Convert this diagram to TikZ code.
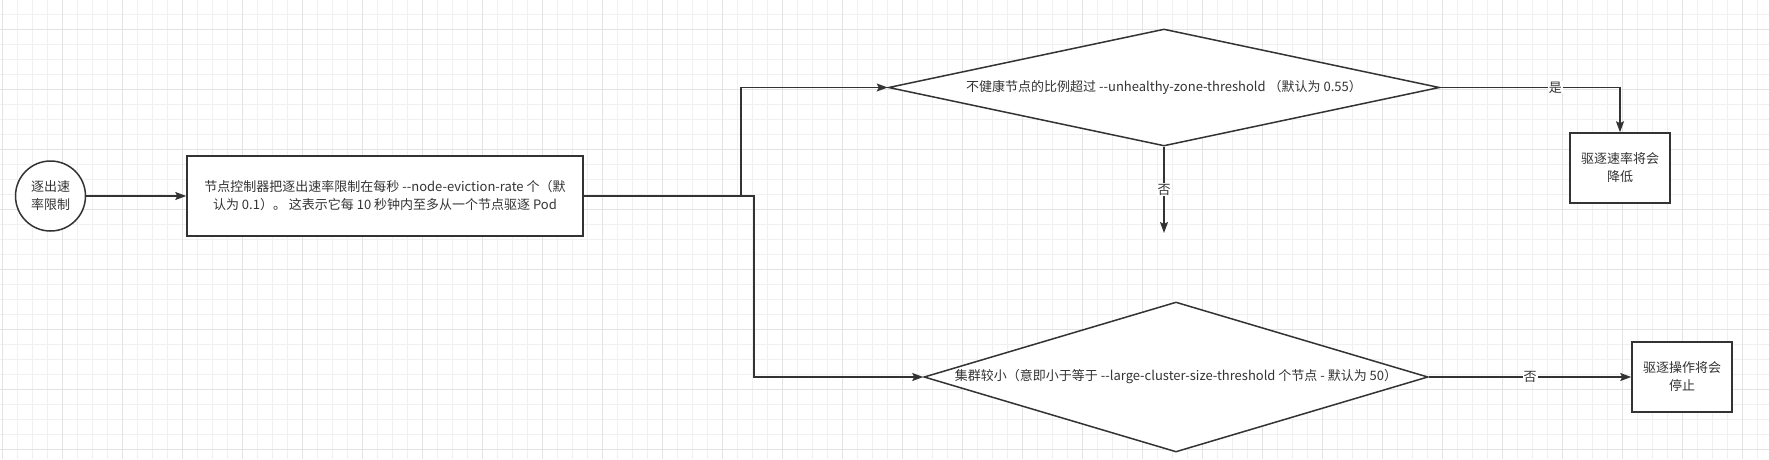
\documentclass[tikz,border=0pt]{standalone}
\usepackage{fontspec}
\setmainfont{Noto Sans CJK SC}
\usetikzlibrary{shapes.geometric,arrows.meta,positioning,calc}
\definecolor{linegray}{HTML}{333333}
\definecolor{gridminor}{HTML}{F0F0F0}
\definecolor{gridmajor}{HTML}{E3E3E3}

\begin{document}
\begin{tikzpicture}[x=1pt, y=-1pt,
    txt/.style={font=\fontsize{13}{18}\selectfont, text=linegray, align=center},
    box/.style={txt, draw=linegray, line width=1.5pt, fill=white, inner sep=0pt},
    test/.style={box, diamond, aspect=3},
    arr/.style={draw=linegray, line width=1.5pt, -{Stealth[length=11pt, width=8pt, inset=2pt]}},
    lbl/.style={txt, fill=white, inner sep=1pt}]
    % Background grid
    \useasboundingbox (0,0) rectangle (1769,459);
    \fill[white] (0,0) rectangle (1769,459);
    \foreach \x in {2,17,...,1769} \draw[gridminor, line width=1pt] (\x,0) -- (\x,459);
    \foreach \y in {14,29,...,459} \draw[gridminor, line width=1pt] (0,\y) -- (1769,\y);
    \foreach \x in {2,62,...,1769} \draw[gridmajor, line width=1pt] (\x,0) -- (\x,459);
    \foreach \y in {29,89,...,459} \draw[gridmajor, line width=1pt] (0,\y) -- (1769,\y);

    % Nodes
    \node[box, circle, minimum size=70pt] (start) at (50.5,196) {逐出速\\率限制};
    \node[box, minimum width=396pt, minimum height=80pt] (rate) at (385,196)
        {节点控制器把逐出速率限制在每秒 -{}-node-eviction-rate 个（默\\认为 0.1）。 这表示它每 10 秒钟内至多从一个节点驱逐 Pod};
    \node[test, minimum width=551pt, minimum height=117pt] (zone) at (1164,87.5)
        {\makebox[0pt]{不健康节点的比例超过 -{}-unhealthy-zone-threshold （默认为 0.55）}};
    \node[test, minimum width=504pt, minimum height=150pt] (small) at (1176,377)
        {\makebox[0pt]{集群较小（意即小于等于 -{}-large-cluster-size-threshold 个节点 - 默认为 50）}};
    \node[box, minimum width=100pt, minimum height=70pt] (slow) at (1620,168) {驱逐速率将会\\降低};
    \node[box, minimum width=100pt, minimum height=70pt] (stop) at (1682,377) {驱逐操作将会\\停止};
    \coordinate (noend) at (1164,233);

    % Connectors
    \draw[arr] (start) -- (rate);
    \draw[arr] (rate.east) -- ++(157,0) |- (zone.west);
    \draw[arr] (rate.east) -- ++(170,0) |- (small.west);
    \draw[arr] (zone.south) -- node[lbl] {否} (noend);
    \draw[arr] (zone.east) -| node[lbl, pos=0.32] {是} (slow.north);
    \draw[arr] (small.east) -- node[lbl] {否} (stop);
\end{tikzpicture}
\end{document}
